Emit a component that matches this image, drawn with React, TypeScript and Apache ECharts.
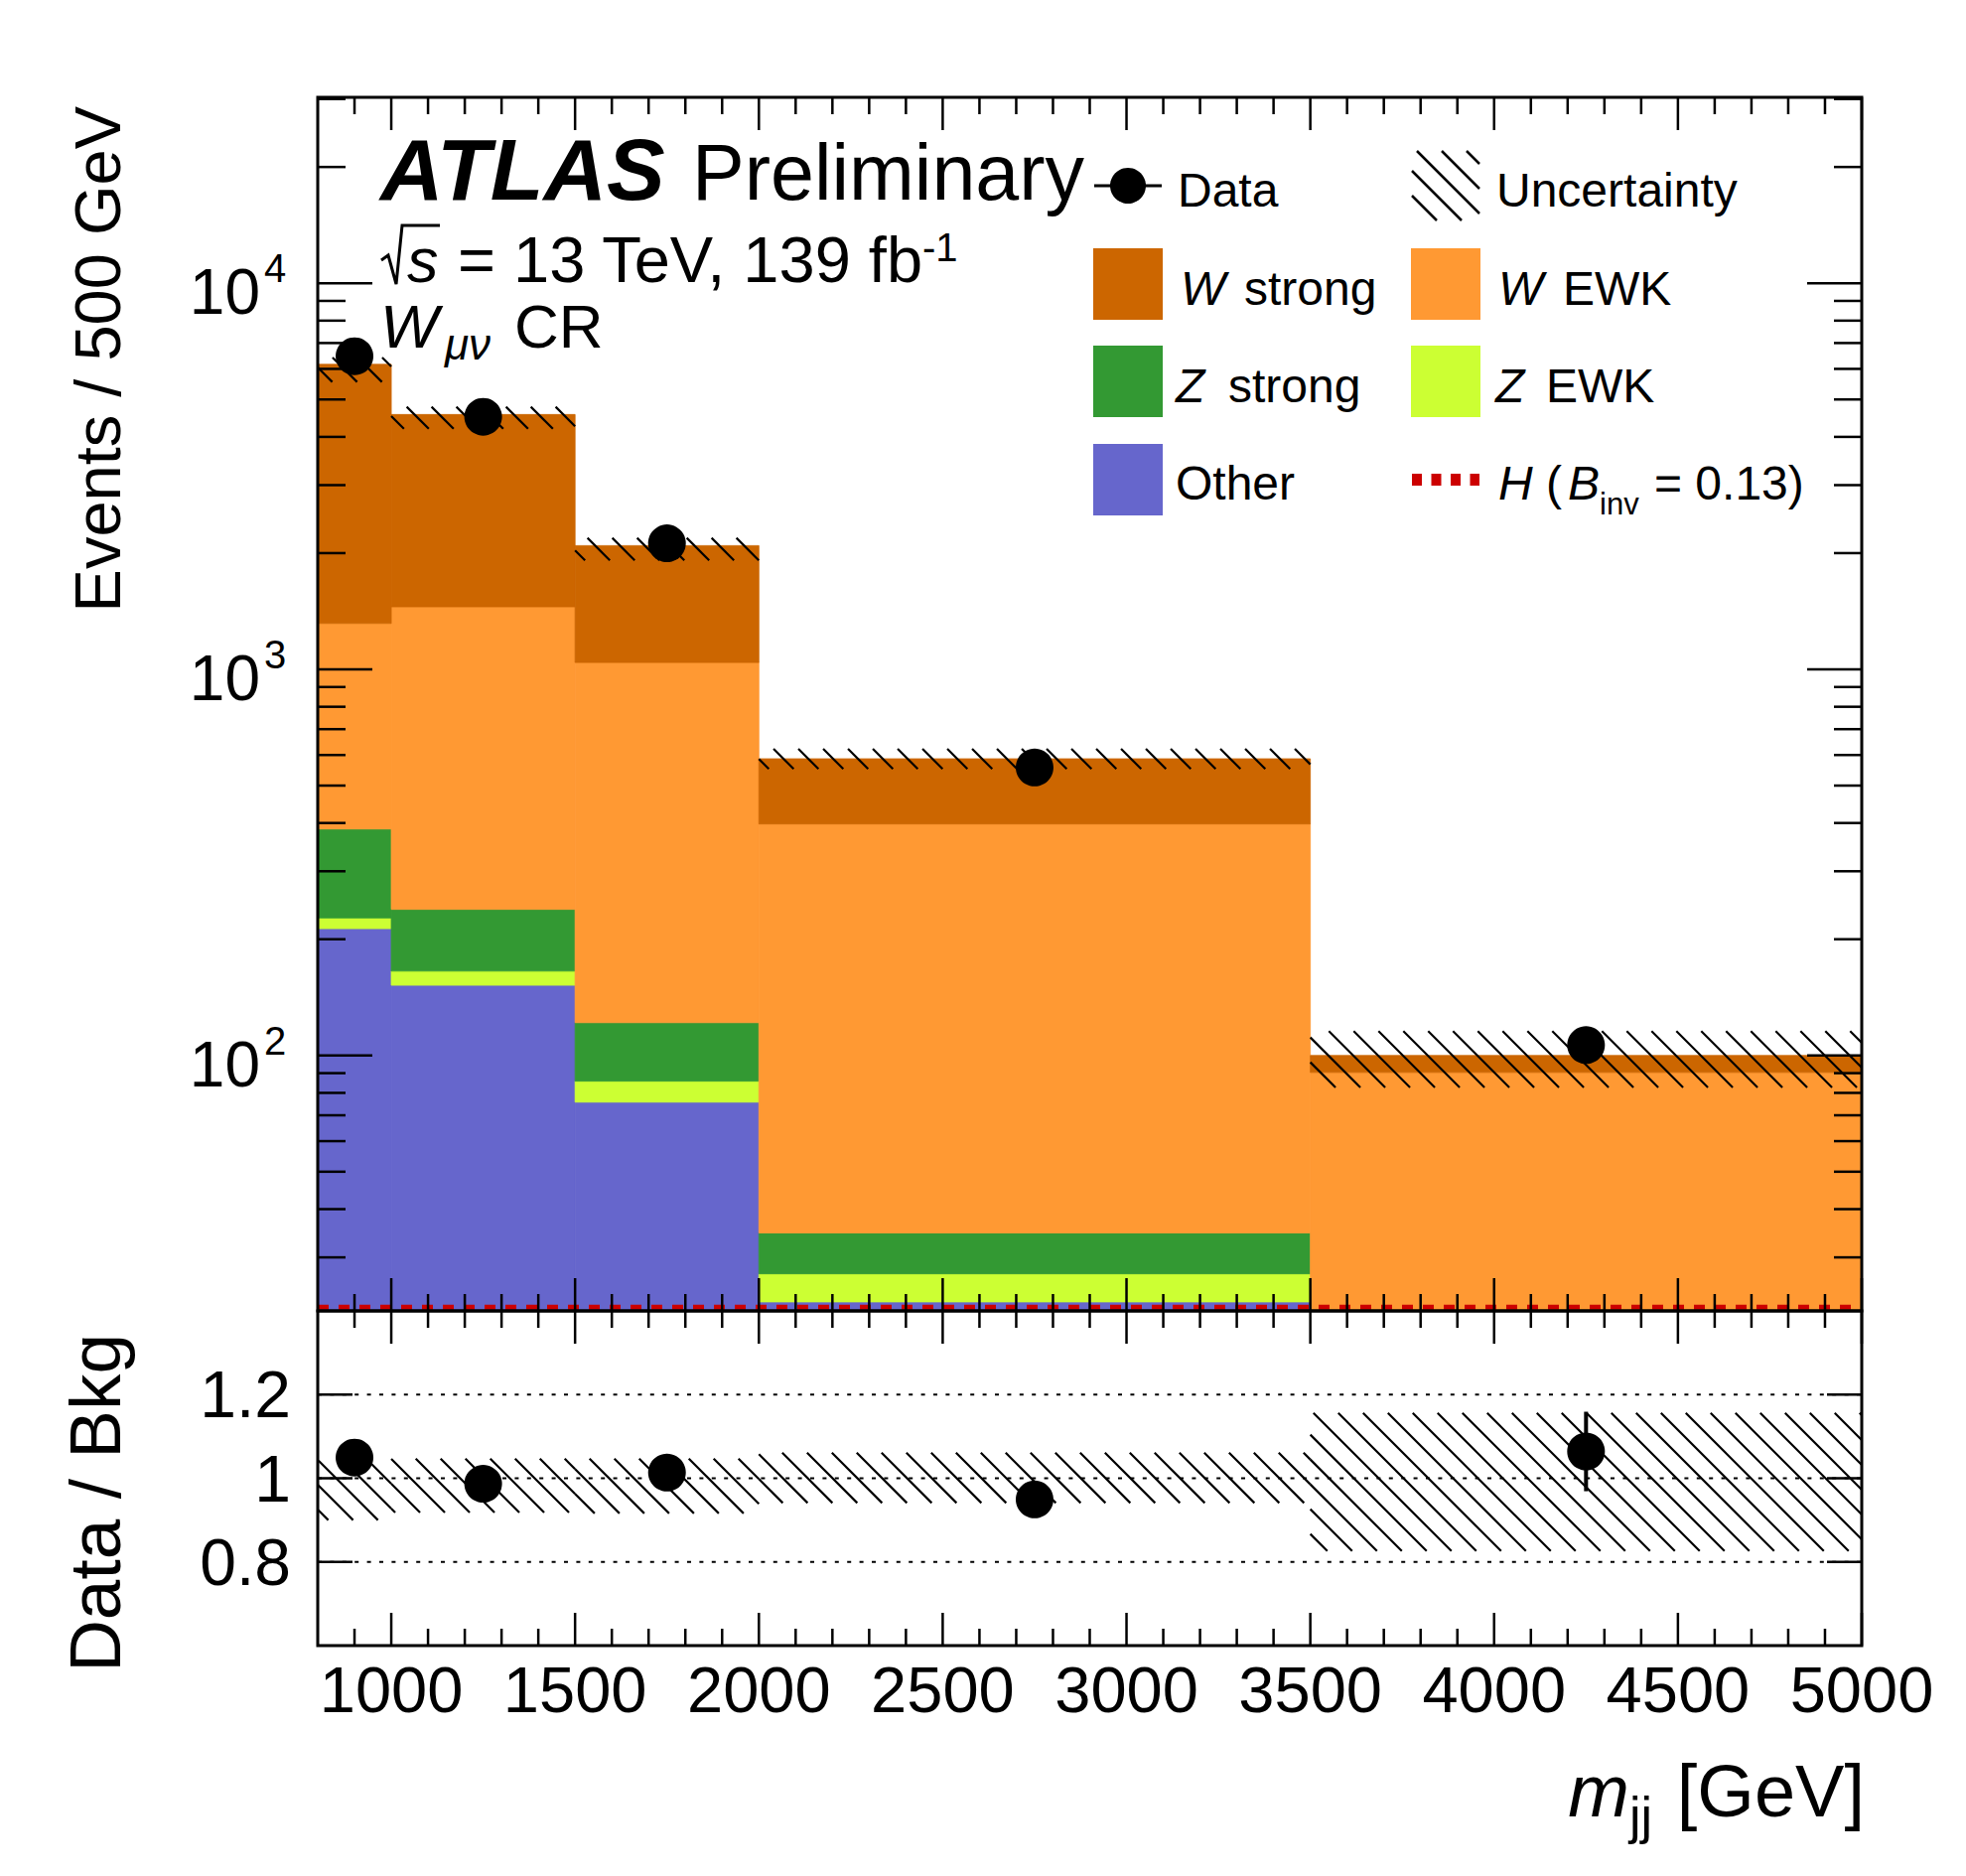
import React, { useEffect, useRef } from "react";
import * as echarts from "echarts";

const FONT = '"Liberation Sans", Arial, Helvetica, sans-serif';

// ---------------- data (events / 500 GeV) ----------------
const binEdges = [800, 1000, 1500, 2000, 3500, 5000];
// stacked bottom -> top
const otherVals = [213, 152, 75.7, 23.0, 4];
const zEwkVals = [14, 13.4, 10.1, 4.2, 3];
const zStrongVals = [159, 73.6, 35.8, 7.5, 6];
const wEwkVals = [929, 1213, 920, 363, 77.4];
const wStrongVals = [4850, 3119, 1050, 189, 9.6];
const higgsVals = [22.3, 22.3, 22.3, 22.3, 22.3];
const dataVals = [6470, 4510, 2120, 557, 106.4];
const dataErrs = [130, 70, 46, 14, 9.5];
const uncUp = [0.042, 0.047, 0.047, 0.061, 0.156];
const uncDown = [0.1, 0.082, 0.084, 0.059, 0.174];

// ---------------- ticks ----------------
const xMajorTicks = [1000, 1500, 2000, 2500, 3000, 3500, 4000, 4500, 5000];
const xTickLabels = ["1000", "1500", "2000", "2500", "3000", "3500", "4000", "4500", "5000"];
const xMinorTicks = [900, 1100, 1200, 1300, 1400, 1600, 1700, 1800, 1900, 2100, 2200, 2300, 2400,
  2600, 2700, 2800, 2900, 3100, 3200, 3300, 3400, 3600, 3700, 3800, 3900, 4100, 4200, 4300, 4400,
  4600, 4700, 4800, 4900];
const yMajorTicks = [100, 1000, 10000];
const yTickExps = ["2", "3", "4"];
const yMinorTicks = [30, 40, 50, 60, 70, 80, 90, 200, 300, 400, 500, 600, 700, 800, 900,
  2000, 3000, 4000, 5000, 6000, 7000, 8000, 9000, 20000, 30000];
const ratioTicks = [0.8, 1.0, 1.2];
const ratioTickLabels = ["0.8", "1", "1.2"];

// ---------------- axis ranges ----------------
const X_MIN = 800, X_MAX = 5000;
const Y_MIN = 21.8, Y_MAX = 30300;
const R_MIN = 0.6, R_MAX = 1.4;

const COL = {
  other: "#6666cc",
  zEwk: "#ccff33",
  zStrong: "#339933",
  wEwk: "#ff9933",
  wStrong: "#cc6600",
  higgs: "#cc0000",
};

function hatchLines(x0: number, y0: number, x1: number, y1: number, spacing = 25, lw = 2.2) {
  const out: any[] = [];
  if (x1 <= x0 || y1 <= y0) return out;
  const cMin = x0 - y1, cMax = x1 - y0;
  for (let c = Math.ceil(cMin / spacing) * spacing; c <= cMax; c += spacing) {
    const xa = Math.max(x0, y0 + c), xb = Math.min(x1, y1 + c);
    if (xb - xa > 0.5) {
      out.push({ type: "line", shape: { x1: xa, y1: xa - c, x2: xb, y2: xb - c }, style: { stroke: "#000", lineWidth: lw } });
    }
  }
  return out;
}

function txt(x: number, baseline: number, text: string, size: number, o: any = {}) {
  return {
    type: "text",
    x,
    y: baseline - 0.3465 * size,
    z: 100,
    style: {
      text,
      fontSize: size,
      fontFamily: FONT,
      fontStyle: o.italic ? "italic" : "normal",
      fontWeight: o.bold ? "bold" : "normal",
      fill: "#000",
      align: o.align || "left",
      verticalAlign: "middle",
    },
  };
}

function buildOption() {
  const nb = binEdges.length - 1;
  const comps = [
    { name: "Other", vals: otherVals, color: COL.other },
    { name: "Z EWK", vals: zEwkVals, color: COL.zEwk },
    { name: "Z strong", vals: zStrongVals, color: COL.zStrong },
    { name: "W EWK", vals: wEwkVals, color: COL.wEwk },
    { name: "W strong", vals: wStrongVals, color: COL.wStrong },
  ];
  const cum = new Array(nb).fill(0);
  const stackSeries: any[] = comps.map((c) => {
    const data: number[][] = [];
    for (let b = 0; b < nb; b++) {
      const lo = cum[b];
      const hi = lo + c.vals[b];
      cum[b] = hi;
      data.push([binEdges[b], binEdges[b + 1], Math.max(lo, Y_MIN), Math.max(hi, Y_MIN)]);
    }
    return {
      type: "custom",
      name: c.name,
      xAxisIndex: 0,
      yAxisIndex: 0,
      z: 1,
      encode: { x: [0, 1], y: [2, 3] },
      data,
      renderItem: (params: any, api: any) => {
        const lo = Math.max(api.value(2), Y_MIN);
        const hi = Math.min(api.value(3), Y_MAX);
        if (hi <= lo) return null;
        const p0 = api.coord([api.value(0), hi]);
        const p1 = api.coord([api.value(1), lo]);
        return {
          type: "rect",
          shape: { x: p0[0], y: p0[1], width: p1[0] - p0[0], height: p1[1] - p0[1] },
          style: { fill: c.color, stroke: c.color, lineWidth: 0.8 },
        };
      },
    };
  });
  const totals = cum.slice();
  const centers = binEdges.slice(0, nb).map((e, i) => (e + binEdges[i + 1]) / 2);
  const ratioVals = dataVals.map((d, i) => d / totals[i]);

  const hatchRender = (params: any, api: any) => {
    const cs = params.coordSys;
    const p0 = api.coord([api.value(0), api.value(3)]);
    const p1 = api.coord([api.value(1), api.value(2)]);
    const top = Math.max(p0[1], cs.y);
    const bot = Math.min(p1[1], cs.y + cs.height);
    return { type: "group", children: hatchLines(p0[0], top, p1[0], bot) };
  };

  const errRender = (params: any, api: any) => {
    const a = api.coord([api.value(0), api.value(1)]);
    const b = api.coord([api.value(0), api.value(2)]);
    return { type: "line", shape: { x1: a[0], y1: a[1], x2: b[0], y2: b[1] }, style: { stroke: "#000", lineWidth: 4 } };
  };

  const higgsData: number[][] = binEdges.slice(0, nb).map((e, i) => [e, higgsVals[i]]);
  higgsData.push([binEdges[nb], higgsVals[nb - 1]]);

  const lineEl = (x1: number, y1: number, x2: number, y2: number, lw = 2.5) => ({
    type: "line",
    shape: { x1, y1, x2, y2 },
    style: { stroke: "#000", lineWidth: lw },
  });

  const xTickData = (yv: number) => [
    ...xMajorTicks.map((v) => [v, yv, 1]),
    ...xMinorTicks.map((v) => [v, yv, 0]),
  ];

  const markerStyle = { color: "#000", opacity: 1, borderWidth: 0 };

  const series: any[] = [
    ...stackSeries,
    {
      type: "custom",
      name: "Uncertainty",
      xAxisIndex: 0,
      yAxisIndex: 0,
      z: 2,
      encode: { x: [0, 1], y: [2, 3] },
      data: totals.map((t, i) => [binEdges[i], binEdges[i + 1], t * (1 - uncDown[i]), t * (1 + uncUp[i])]),
      renderItem: hatchRender,
    },
    {
      type: "line",
      name: "H (B_inv = 0.13)",
      xAxisIndex: 0,
      yAxisIndex: 0,
      z: 3,
      step: "end",
      showSymbol: false,
      symbol: "none",
      data: higgsData,
      lineStyle: { color: COL.higgs, width: 5, type: [11, 10], opacity: 1 },
    },
    // main pane x ticks (top & bottom)
    {
      type: "custom",
      xAxisIndex: 0,
      yAxisIndex: 0,
      z: 4,
      encode: { x: 0, y: 1 },
      data: xTickData(Y_MIN),
      renderItem: (params: any, api: any) => {
        const cs = params.coordSys;
        const x = api.coord([api.value(0), Y_MIN])[0];
        const len = api.value(2) === 1 ? 33 : 17;
        return {
          type: "group",
          children: [
            lineEl(x, cs.y, x, cs.y + len),
            lineEl(x, cs.y + cs.height - len, x, cs.y + cs.height),
          ],
        };
      },
    },
    // main pane y ticks + labels
    {
      type: "custom",
      xAxisIndex: 0,
      yAxisIndex: 0,
      z: 4,
      encode: { x: 0, y: 1 },
      data: [...yMajorTicks.map((v) => [X_MIN, v, 1]), ...yMinorTicks.map((v) => [X_MIN, v, 0])],
      renderItem: (params: any, api: any) => {
        const cs = params.coordSys;
        const v = api.value(1);
        const y = api.coord([X_MIN, v])[1];
        const major = api.value(2) === 1;
        const len = major ? 55 : 28;
        const children: any[] = [
          lineEl(cs.x, y, cs.x + len, y),
          lineEl(cs.x + cs.width - len, y, cs.x + cs.width, y),
        ];
        if (major) {
          const idx = yMajorTicks.indexOf(v);
          children.push({
            type: "text",
            x: cs.x - 58,
            y: y + 9,
            style: { text: "10", fontSize: 64, fontFamily: FONT, fill: "#000", align: "right", verticalAlign: "middle" },
          });
          children.push({
            type: "text",
            x: cs.x - 54,
            y: y - 15,
            style: { text: yTickExps[idx], fontSize: 40, fontFamily: FONT, fill: "#000", align: "left", verticalAlign: "middle" },
          });
        }
        return { type: "group", children };
      },
    },
    // main frame
    {
      type: "custom",
      xAxisIndex: 0,
      yAxisIndex: 0,
      z: 8,
      encode: { x: 0, y: 1 },
      data: [[X_MIN, Y_MIN]],
      renderItem: (params: any) => {
        const cs = params.coordSys;
        return { type: "rect", shape: { x: cs.x, y: cs.y, width: cs.width, height: cs.height }, style: { fill: "none", stroke: "#000", lineWidth: 3 } };
      },
    },
    {
      type: "custom",
      xAxisIndex: 0,
      yAxisIndex: 0,
      z: 5,
      encode: { x: 0, y: [1, 2] },
      data: centers.map((c, i) => [c, dataVals[i] - dataErrs[i], dataVals[i] + dataErrs[i]]),
      renderItem: errRender,
    },
    {
      type: "scatter",
      name: "Data",
      xAxisIndex: 0,
      yAxisIndex: 0,
      z: 6,
      symbol: "circle",
      symbolSize: 38,
      itemStyle: markerStyle,
      emphasis: { disabled: true },
      data: centers.map((c, i) => [c, dataVals[i]]),
    },
    // ratio pane: dotted reference lines
    {
      type: "custom",
      xAxisIndex: 1,
      yAxisIndex: 1,
      z: 1,
      encode: { x: 0, y: 1 },
      data: ratioTicks.map((v) => [X_MIN, v]),
      renderItem: (params: any, api: any) => {
        const cs = params.coordSys;
        const y = api.coord([X_MIN, api.value(1)])[1];
        return {
          type: "line",
          shape: { x1: cs.x, y1: y, x2: cs.x + cs.width, y2: y },
          style: { stroke: "#000", lineWidth: 2.2, lineDash: [4, 8.4] },
        };
      },
    },
    {
      type: "custom",
      xAxisIndex: 1,
      yAxisIndex: 1,
      z: 2,
      encode: { x: [0, 1], y: [2, 3] },
      data: totals.map((t, i) => [binEdges[i], binEdges[i + 1], 1 - uncDown[i], 1 + uncUp[i]]),
      renderItem: hatchRender,
    },
    // ratio x ticks + labels
    {
      type: "custom",
      xAxisIndex: 1,
      yAxisIndex: 1,
      z: 4,
      encode: { x: 0, y: 1 },
      data: xTickData(R_MIN),
      renderItem: (params: any, api: any) => {
        const cs = params.coordSys;
        const v = api.value(0);
        const x = api.coord([v, R_MIN])[0];
        const major = api.value(2) === 1;
        const len = major ? 33 : 17;
        const children: any[] = [
          lineEl(x, cs.y, x, cs.y + len),
          lineEl(x, cs.y + cs.height - len, x, cs.y + cs.height),
        ];
        if (major) {
          children.push({
            type: "text",
            x,
            y: cs.y + cs.height + 44,
            style: { text: xTickLabels[xMajorTicks.indexOf(v)], fontSize: 65, fontFamily: FONT, fill: "#000", align: "center", verticalAlign: "middle" },
          });
        }
        return { type: "group", children };
      },
    },
    // ratio y ticks + labels
    {
      type: "custom",
      xAxisIndex: 1,
      yAxisIndex: 1,
      z: 4,
      encode: { x: 0, y: 1 },
      data: ratioTicks.map((v) => [X_MIN, v]),
      renderItem: (params: any, api: any) => {
        const cs = params.coordSys;
        const v = api.value(1);
        const y = api.coord([X_MIN, v])[1];
        return {
          type: "group",
          children: [
            lineEl(cs.x, y, cs.x + 35, y),
            lineEl(cs.x + cs.width - 35, y, cs.x + cs.width, y),
            {
              type: "text",
              x: cs.x - 27,
              y,
              style: { text: ratioTickLabels[ratioTicks.indexOf(v)], fontSize: 66, fontFamily: FONT, fill: "#000", align: "right", verticalAlign: "middle" },
            },
          ],
        };
      },
    },
    {
      type: "custom",
      xAxisIndex: 1,
      yAxisIndex: 1,
      z: 8,
      encode: { x: 0, y: 1 },
      data: [[X_MIN, R_MIN]],
      renderItem: (params: any) => {
        const cs = params.coordSys;
        return { type: "rect", shape: { x: cs.x, y: cs.y, width: cs.width, height: cs.height }, style: { fill: "none", stroke: "#000", lineWidth: 3 } };
      },
    },
    {
      type: "custom",
      xAxisIndex: 1,
      yAxisIndex: 1,
      z: 5,
      encode: { x: 0, y: [1, 2] },
      data: centers.map((c, i) => [c, ratioVals[i] - dataErrs[i] / totals[i], ratioVals[i] + dataErrs[i] / totals[i]]),
      renderItem: errRender,
    },
    {
      type: "scatter",
      name: "Data / Bkg",
      xAxisIndex: 1,
      yAxisIndex: 1,
      z: 6,
      symbol: "circle",
      symbolSize: 38,
      itemStyle: markerStyle,
      emphasis: { disabled: true },
      data: centers.map((c, i) => [c, ratioVals[i]]),
    },
  ];

  const hidden = {
    axisLine: { show: false },
    axisTick: { show: false },
    axisLabel: { show: false },
    splitLine: { show: false },
  };

  // --------- texts & legend (graphic) ---------
  const g: any[] = [];
  g.push(txt(383, 201, "ATLAS", 88, { bold: true, italic: true }));
  g.push(txt(697, 201, "Preliminary", 79));
  g.push({
    type: "polyline",
    z: 100,
    shape: { points: [[384, 262], [391, 257], [399, 286], [405, 227], [443, 227]] },
    style: { stroke: "#000", lineWidth: 3, fill: "none" },
  });
  g.push(txt(410, 284, "s", 63, { italic: true }));
  g.push(txt(461, 284, "= 13 TeV, 139 fb", 65));
  g.push(txt(929, 263, "-1", 40));
  g.push(txt(383, 350, "W", 62, { italic: true }));
  g.push(txt(448, 362, "μν", 44, { italic: true }));
  g.push(txt(518, 350, "CR", 62));

  // legend
  const LS = 48;
  g.push({ type: "line", z: 100, shape: { x1: 1102, y1: 187, x2: 1170, y2: 187 }, style: { stroke: "#000", lineWidth: 3 } });
  g.push({ type: "circle", z: 100, shape: { cx: 1136, cy: 187, r: 18 }, style: { fill: "#000" } });
  g.push(txt(1186, 208, "Data", LS));
  g.push({ type: "group", z: 100, children: hatchLines(1422, 152, 1490, 222, 25, 2.5) });
  g.push(txt(1507, 208, "Uncertainty", LS));

  const box = (x: number, y: number, color: string) => ({
    type: "rect",
    z: 100,
    shape: { x, y, width: 70, height: 72 },
    style: { fill: color },
  });
  g.push(box(1101, 250, COL.wStrong));
  g.push(txt(1189, 307, "W", LS, { italic: true }));
  g.push(txt(1253, 307, "strong", LS));
  g.push(box(1421, 250, COL.wEwk));
  g.push(txt(1509, 307, "W", LS, { italic: true }));
  g.push(txt(1574, 307, "EWK", LS));
  g.push(box(1101, 348, COL.zStrong));
  g.push(txt(1184, 405, "Z", LS, { italic: true }));
  g.push(txt(1237, 405, "strong", LS));
  g.push(box(1421, 348, COL.zEwk));
  g.push(txt(1506, 405, "Z", LS, { italic: true }));
  g.push(txt(1557, 405, "EWK", LS));
  g.push(box(1101, 447, COL.other));
  g.push(txt(1184, 503, "Other", LS));
  g.push({
    type: "line",
    z: 100,
    shape: { x1: 1422, y1: 483, x2: 1490, y2: 483 },
    style: { stroke: COL.higgs, lineWidth: 12, lineDash: [10, 9.5] },
  });
  g.push(txt(1509, 503, "H", LS, { italic: true }));
  g.push(txt(1557, 503, "(", LS));
  g.push(txt(1579, 503, "B", LS, { italic: true }));
  g.push(txt(1611, 518, "inv", 31));
  g.push(txt(1666, 503, "= 0.13)", LS));

  // axis titles
  g.push({
    type: "text",
    z: 100,
    x: 98,
    y: 107,
    rotation: Math.PI / 2,
    style: { text: "Events / 500 GeV", fontSize: 65, fontFamily: FONT, fill: "#000", align: "right", verticalAlign: "middle" },
  });
  g.push({
    type: "text",
    z: 100,
    x: 95,
    y: 1343,
    rotation: Math.PI / 2,
    style: { text: "Data / Bkg", fontSize: 73, fontFamily: FONT, fill: "#000", align: "right", verticalAlign: "middle" },
  });
  g.push(txt(1641, 1829, "m", 74, { italic: true, align: "right" }));
  g.push(txt(1641, 1846, "jj", 52));
  g.push(txt(1878, 1829, "[GeV]", 74, { align: "right" }));

  return {
    animation: false,
    backgroundColor: "#ffffff",
    grid: [
      { left: 320, top: 98, width: 1555, height: 1222, show: false },
      { left: 320, top: 1320, width: 1555, height: 337, show: false },
    ],
    xAxis: [
      { type: "value", gridIndex: 0, min: X_MIN, max: X_MAX, ...hidden },
      { type: "value", gridIndex: 1, min: X_MIN, max: X_MAX, ...hidden },
    ],
    yAxis: [
      { type: "log", logBase: 10, gridIndex: 0, min: Y_MIN, max: Y_MAX, ...hidden },
      { type: "value", gridIndex: 1, min: R_MIN, max: R_MAX, ...hidden },
    ],
    series,
    graphic: g,
  };
}

export default function App() {
  const ref = useRef<HTMLDivElement>(null);
  useEffect(() => {
    if (!ref.current) return;
    const chart = echarts.init(ref.current, null, { renderer: "svg" });
    chart.setOption(buildOption() as any);
    return () => chart.dispose();
  }, []);
  return (
    <div
      ref={ref}
      style={{ position: "absolute", left: 0, top: 0, width: 1980, height: 1889, background: "#fff" }}
    />
  );
}
